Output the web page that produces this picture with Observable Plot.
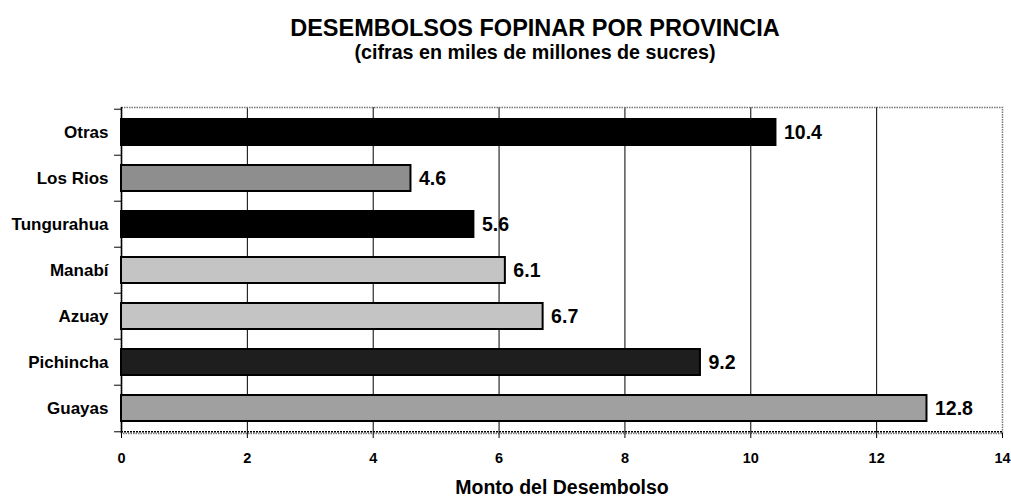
<!DOCTYPE html>
<html>
<head>
<meta charset="utf-8">
<script src="https://cdn.jsdelivr.net/npm/d3@7"></script>
<script src="https://cdn.jsdelivr.net/npm/@observablehq/plot@0.6"></script>
<style>
  html, body { margin: 0; padding: 0; background: #fff; }
  body { width: 1011px; height: 497px; overflow: hidden; font-family: "Liberation Sans", Arial, sans-serif; }
  #head { height: 90px; position: relative; }
  #title { position: absolute; top: 17px; left: 0; width: 1070px; text-align: center; font-size: 23.5px; line-height: 1; font-weight: bold; color: #000; white-space: nowrap; }
  #subtitle { position: absolute; top: 43px; left: 0; width: 1070px; text-align: center; font-size: 19.7px; line-height: 1; font-weight: bold; color: #000; white-space: nowrap; }
  #chart svg { display: block; overflow: visible; }
</style>
</head>
<body>
<div id="head">
  <div id="title">DESEMBOLSOS FOPINAR POR PROVINCIA</div>
  <div id="subtitle">(cifras en miles de millones de sucres)</div>
</div>
<div id="chart"></div>
<script>
const provincias = ["Otras", "Los Rios", "Tungurahua", "Manabí", "Azuay", "Pichincha", "Guayas"];
const montos = [10.4, 4.6, 5.6, 6.1, 6.7, 9.2, 12.8];
const rellenos = ["#000000", "#8e8e8e", "#000000", "#c4c4c4", "#c4c4c4", "#1e1e1e", "#a0a0a0"];
const xTicks = [0, 2, 4, 6, 8, 10, 12, 14];
const xTitle = "Monto del Desembolso";

const data = provincias.map((p, i) => ({provincia: p, monto: montos[i], fill: rellenos[i]}));

const H = 407, mTop = 17, mBottom = 64;
const step = (H - mTop - mBottom) / provincias.length;
const last = provincias[provincias.length - 1];

const chart = Plot.plot({
  width: 1011,
  height: H,
  marginLeft: 121,
  marginRight: 9,
  marginTop: mTop,
  marginBottom: mBottom,
  style: {fontFamily: "'Liberation Sans', Arial, sans-serif", color: "#000", background: "#fff"},
  x: {domain: [0, 14], ticks: xTicks},
  y: {domain: provincias, paddingInner: 0.44, paddingOuter: 0.22, label: null},
  marks: [
    Plot.ruleX(xTicks.filter(d => d > 0 && d < 14), {stroke: "#000", strokeWidth: 1}),
    Plot.frame({stroke: "#777", strokeWidth: 1.5, strokeDasharray: "1.5,1"}),
    Plot.ruleX([0], {stroke: "#000", strokeWidth: 1.5}),
    Plot.ruleY([last], {y: d => d, x1: 0, x2: 14, dy: step / 2, stroke: "#000", strokeWidth: 1.5, strokeDasharray: "2,1"}),
    Plot.barX(data, {x: "monto", y: "provincia", fill: "fill", stroke: "#000", strokeWidth: 2}),
    Plot.text(data, {x: "monto", y: "provincia", text: d => d.monto.toFixed(1), textAnchor: "start", dx: 8, fontSize: 19.5, fontWeight: "bold", fill: "#000"}),
    // band-boundary tick marks on left axis
    Plot.ruleY(data, {y: "provincia", x1: -0.11, x2: 0, dy: -step / 2, stroke: "#000"}),
    Plot.ruleY([last], {y: d => d, x1: -0.11, x2: 0, dy: step / 2, stroke: "#000"}),
    Plot.axisY({tickSize: 0, tickPadding: 13, fontSize: 17, fontWeight: "bold", label: null}),
    Plot.axisX({ticks: xTicks, tickSize: 5, tickPadding: 14, fontSize: 14.5, fontWeight: "bold", label: null}),
    Plot.text([xTitle], {text: d => d, frameAnchor: "bottom", dy: 60, fontSize: 19.5, fontWeight: "bold", fill: "#000"})
  ]
});
document.getElementById("chart").appendChild(chart);
</script>
</body>
</html>
